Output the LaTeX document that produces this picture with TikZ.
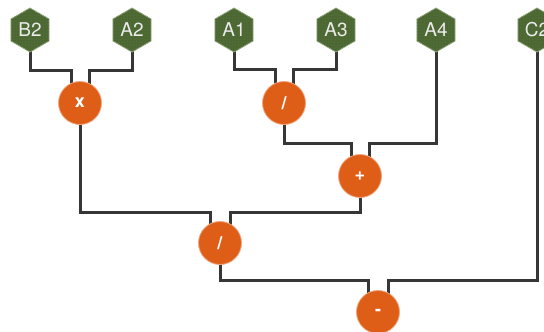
\documentclass[tikz,border=0pt]{standalone}
\usepackage{fontspec}
\setmainfont{TeX Gyre Heros}
\usetikzlibrary{shapes.geometric,backgrounds,calc,patterns}

\definecolor{cellgreen}{HTML}{4F6B35}
\definecolor{celldots}{HTML}{3A5226}
\definecolor{celledge}{HTML}{8FA77A}
\definecolor{oporange}{HTML}{DF5E17}
\definecolor{wiregray}{HTML}{363636}

\tikzset{
  cell/.style={regular polygon, regular polygon sides=6, shape border rotate=30,
               fill=cellgreen, draw=celledge, line width=0.8pt,
               minimum size=44pt, inner sep=0pt, text=white!92!black,
               font=\fontsize{19}{19}\selectfont,
               postaction={pattern=dots, pattern color=celldots}},
  op/.style={circle, fill=oporange, draw=oporange!55!white, line width=0.8pt,
             minimum size=43pt, inner sep=0pt, text=white,
             font=\bfseries\fontsize{18}{18}\selectfont},
  wire/.style={draw=wiregray, line width=3pt}
}

\begin{document}
\begin{tikzpicture}[x=1pt,y=-1pt]
\useasboundingbox (0,0) rectangle (544,332);

% input cells
\node[cell] (B2) at (30,30) {B2};
\node[cell] (A2) at (132,30) {A2};
\node[cell] (A1) at (234,30) {A1};
\node[cell] (A3) at (336,30) {A3};
\node[cell] (A4) at (436,30) {A4};
\node[cell] (C2) at (537,30) {C2};

% operators
\node[op] (mul) at (80,103) {x};
\node[op] (div1) at (284,103) {/};
\node[op] (add) at (360,176) {+};
\node[op] (div2) at (220,243) {/};
\node[op] (sub) at (378,312) {-};

\begin{pgfonlayer}{background}
\draw[wire] (B2.center) |- ($(mul)+(-9,-33)$) -- ($(mul)+(-9,0)$);
\draw[wire] (A2.center) |- ($(mul)+(9,-33)$) -- ($(mul)+(9,0)$);
\draw[wire] (A1.center) |- ($(div1)+(-9,-34)$) -- ($(div1)+(-9,0)$);
\draw[wire] (A3.center) |- ($(div1)+(9,-34)$) -- ($(div1)+(9,0)$);
\draw[wire] (div1.center) |- ($(add)+(-9,-33)$) -- ($(add)+(-9,0)$);
\draw[wire] (A4.center) |- ($(add)+(9,-33)$) -- ($(add)+(9,0)$);
\draw[wire] (mul.center) |- ($(div2)+(-10,-31)$) -- ($(div2)+(-10,0)$);
\draw[wire] (add.center) |- ($(div2)+(10,-31)$) -- ($(div2)+(10,0)$);
\draw[wire] (div2.center) |- ($(sub)+(-10,-32)$) -- ($(sub)+(-10,0)$);
\draw[wire] (C2.center) |- ($(sub)+(10,-32)$) -- ($(sub)+(10,0)$);
\end{pgfonlayer}

\end{tikzpicture}
\end{document}
